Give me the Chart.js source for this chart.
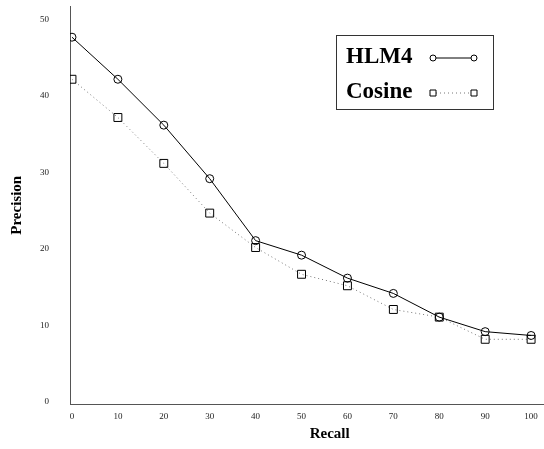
<!DOCTYPE html>
<html>
<head>
<meta charset="utf-8">
<script src="https://cdn.jsdelivr.net/npm/chart.js@4"></script>
<style>
  html, body { margin: 0; padding: 0; background: #fff; }
  #wrap { width: 544px; height: 449px; overflow: hidden; position: relative; }
  canvas { display: block; }
</style>
</head>
<body>
<div id="wrap">
  <canvas id="grafico" width="596" height="449"></canvas>
</div>
<script>
const recall = [0, 10, 20, 30, 40, 50, 60, 70, 80, 90, 100];
const hlm4 = [47.7, 42.2, 36.2, 29.2, 21.1, 19.2, 16.2, 14.2, 11.1, 9.2, 8.7];
const cosine = [42.2, 37.2, 31.2, 24.7, 20.2, 16.7, 15.2, 12.1, 11.1, 8.2, 8.2];
const xTicks = [0, 10, 20, 30, 40, 50, 60, 70, 80, 90, 100];
const yTicks = [0, 10, 20, 30, 40, 50];

const serif = "'Liberation Serif', 'DejaVu Serif', serif";

// legenda com caixa, texto antes do simbolo
const boxLegend = {
    id: 'boxLegend',
    afterDraw(chart) {
        const ctx = chart.ctx;
        ctx.save();
        ctx.strokeStyle = '#333';
        ctx.lineWidth = 1;
        ctx.strokeRect(336.5, 35.5, 157, 74);
        ctx.fillStyle = '#000';
        ctx.font = 'bold 23px ' + serif;
        ctx.textBaseline = 'middle';
        ctx.textAlign = 'left';
        const rows = [57, 92];
        chart.data.datasets.forEach(function(ds, i) {
            const y = rows[i];
            ctx.fillStyle = '#000';
            ctx.fillText(ds.label, 346, y);
            ctx.beginPath();
            ctx.setLineDash(ds.borderDash || []);
            ctx.strokeStyle = ds.borderColor;
            ctx.moveTo(436, y + 1);
            ctx.lineTo(471, y + 1);
            ctx.stroke();
            ctx.setLineDash([]);
            ctx.strokeStyle = '#000';
            ctx.fillStyle = '#fff';
            [433, 474].forEach(function(x) {
                ctx.beginPath();
                if (ds.pointStyle === 'circle') {
                    ctx.arc(x, y + 1, 3, 0, Math.PI * 2);
                } else {
                    ctx.rect(x - 3, y - 2, 6, 6);
                }
                ctx.fill();
                ctx.stroke();
            });
        });
        ctx.restore();
    }
};

new Chart(document.getElementById('grafico'), {
    type: 'scatter',
    data: {
        datasets: [{
            label: 'HLM4',
            data: recall.map((r, i) => ({ x: r, y: hlm4[i] })),
            showLine: true,
            borderColor: '#000',
            borderWidth: 1,
            pointStyle: 'circle',
            pointRadius: 4,
            pointBorderWidth: 1,
            pointBorderColor: '#000',
            pointBackgroundColor: 'rgba(255,255,255,0)'
        }, {
            label: 'Cosine',
            data: recall.map((r, i) => ({ x: r, y: cosine[i] })),
            showLine: true,
            borderColor: '#777',
            borderWidth: 1,
            borderDash: [1, 3],
            pointStyle: 'rect',
            pointRadius: 5.6,
            pointBorderWidth: 1,
            pointBorderColor: '#000',
            pointBackgroundColor: 'rgba(255,255,255,0)'
        }]
    },
    options: {
        responsive: false,
        animation: false,
        layout: { padding: { top: 6, right: 0, left: 0, bottom: 0 } },
        plugins: {
            legend: { display: false },
            tooltip: { enabled: false }
        },
        scales: {
            x: {
                type: 'linear',
                min: -0.43,
                max: 112.7,
                afterBuildTicks: s => { s.ticks = xTicks.map(v => ({ value: v })); },
                afterFit: s => { s.height = 45; s.paddingLeft = 0; s.paddingRight = 0; },
                grid: { display: false, drawTicks: false },
                border: { display: true, color: '#555', width: 1 },
                ticks: {
                    padding: 7,
                    maxRotation: 0,
                    autoSkip: false,
                    color: '#222',
                    font: { family: serif, size: 9 }
                },
                title: {
                    display: true,
                    text: 'Recall',
                    color: '#000',
                    font: { family: serif, size: 15, weight: 'bold' },
                    padding: { top: 0, bottom: 6 }
                }
            },
            y: {
                min: -0.26,
                max: 51.7,
                afterBuildTicks: s => { s.ticks = yTicks.map(v => ({ value: v })); },
                afterFit: s => { s.width = 70; s.paddingTop = 0; s.paddingBottom = 0; },
                grid: { display: false, drawTicks: false },
                border: { display: true, color: '#555', width: 1 },
                ticks: {
                    padding: 21,
                    color: '#222',
                    font: { family: serif, size: 9 }
                },
                title: {
                    display: true,
                    text: 'Precision',
                    color: '#000',
                    font: { family: serif, size: 15, weight: 'bold' },
                    padding: { top: 8, bottom: 0 }
                }
            }
        }
    },
    plugins: [boxLegend]
});
</script>
</body>
</html>
